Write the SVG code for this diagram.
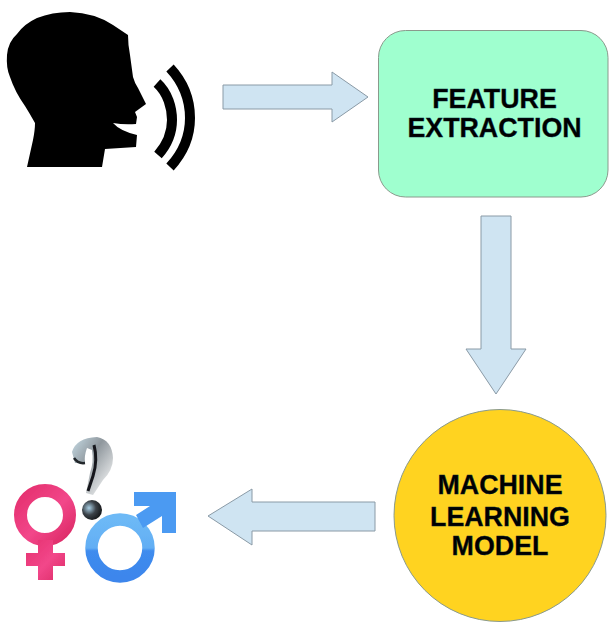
<svg xmlns="http://www.w3.org/2000/svg" width="612" height="624" viewBox="0 0 612 624">
<style>
.arrow{fill:#cfe4f2;stroke:#8a9aa6;stroke-width:1}
.node{stroke:#8a9a8c;stroke-width:1}
.label{font-family:"Liberation Sans",Arial,sans-serif;font-weight:700;font-size:26.8px;fill:#000;stroke:#03233a;stroke-width:.35;text-anchor:middle}
</style>
<defs>
<linearGradient id="pink" x1="0" y1="0" x2="1" y2="1"><stop offset="0" stop-color="#e5306f"/><stop offset=".55" stop-color="#f2478a"/><stop offset="1" stop-color="#dc2a66"/></linearGradient>
<linearGradient id="blue" x1="0" y1="0" x2="0" y2="1"><stop offset="0" stop-color="#6db9f6"/><stop offset=".5" stop-color="#62aef4"/><stop offset=".55" stop-color="#3f8cee"/><stop offset="1" stop-color="#3c86ec"/></linearGradient>
<linearGradient id="silver" x1="0" y1="0" x2="1" y2="1"><stop offset="0" stop-color="#c7dce6"/><stop offset=".4" stop-color="#8f979d"/><stop offset=".75" stop-color="#d5d8da"/><stop offset="1" stop-color="#7c8387"/></linearGradient>
<radialGradient id="dot" cx=".35" cy=".4" r=".7"><stop offset="0" stop-color="#a9d0e6"/><stop offset=".5" stop-color="#3b4248"/><stop offset="1" stop-color="#111416"/></radialGradient>
<filter id="soft" x="-10%" y="-10%" width="120%" height="120%"><feGaussianBlur stdDeviation=".7"/></filter>
</defs>
<rect width="612" height="624" fill="#fff"/>
<g id="connectors">
<polygon class="arrow" points="223,85 332,85 332,72 368,97 332,122 332,109 223,109"/>
<polygon class="arrow" points="481,216 511,216 511,349 526,349 496,394 466,349 481,349"/>
<polygon class="arrow" points="375,502 252,502 252,489 208,516 252,545 252,531 375,531"/>
</g>
<g id="speaker">
<path fill="#000" d="M27,167 L33,140 Q35,130 35,123 Q30,114 25,106 Q15,92 10,77 Q6,68 7,55 Q8,42 17,34 Q24,24 37,18 Q52,12 70,12 Q95,13 113,25 L128,35 Q128,45 130,55 L133,77 Q135,84 138,88 L146,104 L135,112 L137,117 L136,124 Q124,125 113,123 Q120,131 137,135 L136,147 L105,149 L102,167 Z"/>
<path d="M157,83 C168,93 172,108 172,120 C172,133 166,146 158,155" fill="none" stroke="#000" stroke-width="10"/>
<path d="M170,68 C183,82 190,100 190,118 C190,137 182,154 170,167" fill="none" stroke="#000" stroke-width="10"/>
</g>
<g id="feature-extraction">
<rect class="node" x="378.500" y="30.500" width="229.500" height="166.500" rx="27" fill="#9fffcf"/>
<text class="label" x="494.500" y="108">FEATURE</text>
<text class="label" x="494.500" y="137">EXTRACTION</text>
</g>
<g id="machine-learning-model">
<circle class="node" cx="500" cy="515.500" r="106" fill="#ffd320"/>
<text class="label" x="500" y="494">MACHINE</text>
<text class="label" x="500" y="525.500">LEARNING</text>
<text class="label" x="500" y="555">MODEL</text>
</g>
<g id="gender" filter="url(#soft)">
<circle cx="45" cy="515" r="24.500" fill="none" stroke="url(#pink)" stroke-width="13"/>
<path fill="url(#pink)" d="M38,540 H53 V553 H65 V566 H53 V580 H38 V566 H26 V553 H38 Z"/>
<circle cx="120" cy="548" r="28.500" fill="none" stroke="url(#blue)" stroke-width="12.500"/>
<path fill="#4c9af2" d="M134,492 H176 V533 H162 V516 L143,528 L136,515 L150,506 H134 Z"/>
<path fill="url(#silver)" d="M72,452 Q76,438 97,437 Q112,440 113,458 Q113,470 103,480 L93,495 L86,493 L90,473 Q94,462 92,450 L87,448 Q84,456 85,463 L75,463 Z"/>
<path d="M94,445 Q98,460 93,476 L88,491" fill="none" stroke="#14181b" stroke-width="3"/>
<path d="M74,458 Q78,464 85,463" fill="none" stroke="#20262a" stroke-width="2.500"/>
<circle cx="92" cy="510" r="10" fill="url(#dot)"/>
</g>
</svg>
